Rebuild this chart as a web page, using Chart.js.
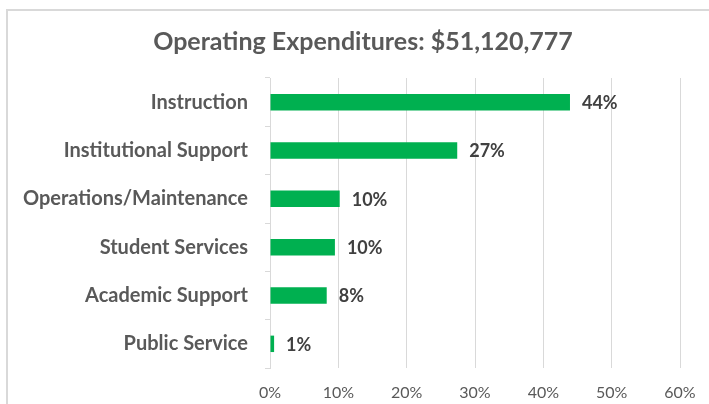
<!DOCTYPE html>
<html>
<head>
<meta charset="utf-8">
<script src="https://cdn.jsdelivr.net/npm/chart.js@4"></script>
<style>
  html, body { margin: 0; padding: 0; background: #fff; overflow: hidden; }
  body { width: 709px; height: 404px; position: relative; }
  #frame {
    position: absolute; left: 6px; top: 9px;
    border-top: 2px solid #d9d9d9; border-left: 2px solid #d9d9d9;
  }
  canvas { display: block; }
</style>
</head>
<body>
<div id="frame"><canvas id="chart" width="710" height="395"></canvas></div>
<script>
const categories = ['Instruction', 'Institutional Support', 'Operations/Maintenance',
                    'Student Services', 'Academic Support', 'Public Service'];
const shares = [43.9, 27.4, 10.2, 9.5, 8.3, 0.6];
const tickValues = [0, 10, 20, 30, 40, 50, 60];
const chartTitle = 'Operating Expenditures: $51,120,777';

const FONT = 'Lato, "Open Sans", sans-serif';

// title centred on the whole frame (the built-in one centres inside the padding)
const frameTitle = {
  id: 'frameTitle',
  afterDraw(chart) {
    const ctx = chart.ctx;
    ctx.save();
    ctx.font = 'bold 25px ' + FONT;
    ctx.fillStyle = '#595959';
    ctx.textAlign = 'center';
    ctx.textBaseline = 'middle';
    ctx.fillText(chartTitle, chart.width / 2, 31);
    ctx.restore();
  }
};

// draws "44%" etc. just right of each bar end
const barLabels = {
  id: 'barLabels',
  afterDatasetsDraw(chart) {
    const ctx = chart.ctx;
    const meta = chart.getDatasetMeta(0);
    ctx.save();
    ctx.font = 'bold 18px ' + FONT;
    ctx.fillStyle = '#404040';
    ctx.textAlign = 'left';
    ctx.textBaseline = 'middle';
    meta.data.forEach((bar, i) => {
      ctx.fillText(Math.round(shares[i]) + '%', bar.x + 12, bar.y + 1);
    });
    ctx.restore();
  }
};

new Chart(document.getElementById('chart'), {
  type: 'bar',
  data: {
    labels: categories,
    datasets: [{
      data: shares,
      backgroundColor: '#00b050',
      borderWidth: 0,
      barPercentage: 0.34,
      categoryPercentage: 1
    }]
  },
  options: {
    indexAxis: 'y',
    responsive: false,
    animation: false,
    layout: { padding: { left: 0, right: 38, top: 67, bottom: 7 } },
    plugins: {
      legend: { display: false },
      tooltip: { enabled: false },
      title: { display: false }
    },
    scales: {
      x: {
        min: tickValues[0],
        max: tickValues[tickValues.length - 1],
        afterBuildTicks(scale) { scale.ticks = tickValues.map(v => ({ value: v })); },
        afterFit(scale) { scale.height = 31; },
        grid: { color: '#d9d9d9', lineWidth: 1, drawTicks: false },
        border: { display: false },
        ticks: {
          color: '#595959',
          font: { family: FONT, size: 16 },
          padding: 15,
          callback: v => v + '%'
        }
      },
      y: {
        afterFit(scale) { scale.width = 262; },
        grid: { drawOnChartArea: false, drawTicks: true, tickLength: 5, color: '#d9d9d9', offset: true },
        border: { display: true, color: '#d9d9d9', width: 1 },
        ticks: {
          color: '#595959',
          font: { family: FONT, size: 20, weight: 'bold' },
          padding: 17
        }
      }
    }
  },
  plugins: [barLabels, frameTitle]
});
</script>
</body>
</html>
